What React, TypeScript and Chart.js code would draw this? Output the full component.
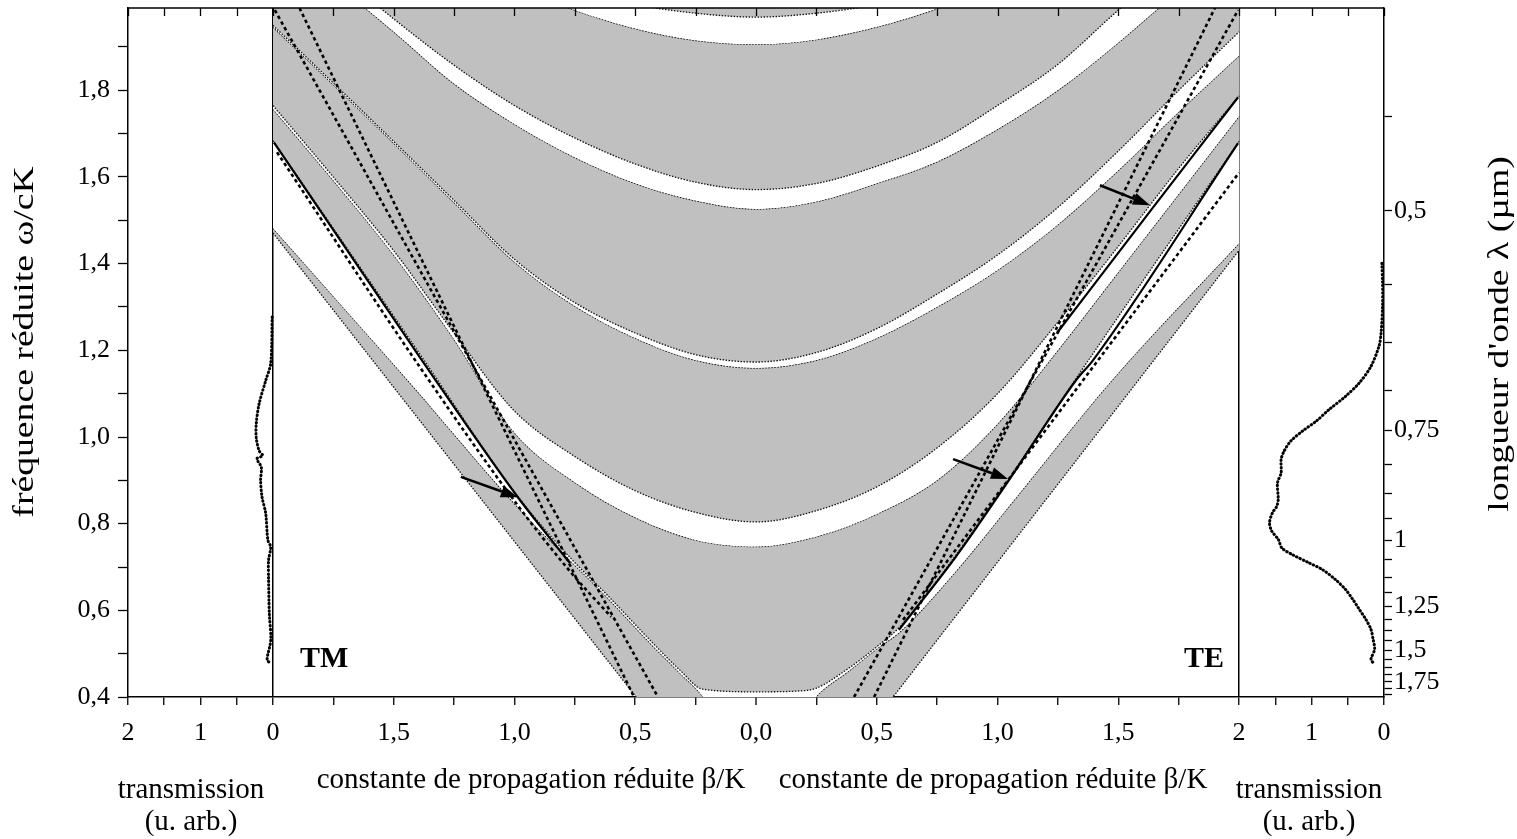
import React, { useEffect, useRef } from "react";
import { Chart, registerables } from "chart.js";

Chart.register(...registerables);

const FONT = '"Liberation Serif", "Times New Roman", serif';
const GRAY = "#c0c0c0";

// ---------- axes ----------
const freqMin = 0.4;
const freqMax = 1.99;
const freqTicks = [0.4, 0.5, 0.6, 0.7, 0.8, 0.9, 1.0, 1.1, 1.2, 1.3, 1.4, 1.5, 1.6, 1.7, 1.8, 1.9];
const freqTickLabels = ["0,4", "", "0,6", "", "0,8", "", "1,0", "", "1,2", "", "1,4", "", "1,6", "", "1,8", ""];
const lambdaConst = 0.761; // ω/cK = lambdaConst / λ(µm)
const lambdaTicks = [0.4375, 0.5, 0.5625, 0.625, 0.6875, 0.75, 0.8125, 0.875, 0.9375, 1, 1.0625, 1.125, 1.1875, 1.25, 1.3125, 1.375, 1.4375, 1.5, 1.5625, 1.625, 1.6875, 1.75, 1.8125, 1.875];
const lambdaTickLabels = ["", "0,5", "", "", "", "0,75", "", "", "", "1", "", "", "", "1,25", "", "", "", "1,5", "", "", "", "1,75", "", ""];
const xMin = -2.6;
const xMax = 2.6;
const transScale = 0.3; // β/K units per transmission unit on the side panels
const xTickValues = [-2.6, -2.45, -2.3, -2.15, -2, -1.75, -1.5, -1.25, -1, -0.75, -0.5, -0.25, 0, 0.25, 0.5, 0.75, 1, 1.25, 1.5, 1.75, 2, 2.15, 2.3, 2.45, 2.6];
const xTickLabels = ["2", "", "1", "", "0", "", "1,5", "", "1,0", "", "0,5", "", "0,0", "", "0,5", "", "1,0", "", "1,5", "", "2", "", "1", "", "0"];

// ---------- band diagram (β/K, ω/cK) ----------
const betaGrid = [0, 0.25, 0.5, 0.75, 1, 1.25, 1.5, 1.75, 2];
const tmGap2Lo = [0.747, 0.762, 0.814, 0.895, 1.01, 1.225, 1.42, 1.592, 1.757];
const tmGap2Hi = [0.804, 0.826, 0.876, 0.955, 1.06, 1.24, 1.43, 1.6, 1.765];
const tmGap3Lo = [1.159, 1.177, 1.228, 1.302, 1.404, 1.541, 1.678, 1.813, 1.946];
const tmGap3Hi = [1.173, 1.19, 1.24, 1.31, 1.41, 1.546, 1.682, 1.817, 1.95];
const tmGap4Lo = [1.526, 1.545, 1.585, 1.645, 1.722, 1.815, 1.935, 2.05, 2.16];
const tmGap4Hi = [1.571, 1.588, 1.63, 1.69, 1.765, 1.858, 1.965, 2.08, 2.19];
const tmGap5Lo = [1.906, 1.915, 1.942, 1.985, 2.04, 2.1, 2.16, 2.23, 2.3];
const tmGap5Hi = [1.969, 1.978, 1.998, 2.03, 2.07, 2.12, 2.18, 2.25, 2.32];
const teGap2Lo = [0.747, 0.77, 0.822, 0.9, 1.03, 1.2, 1.38, 1.56, 1.74];
const teGap2Hi = [0.804, 0.83, 0.885, 0.975, 1.1, 1.265, 1.44, 1.62, 1.787];
const teGap3Lo = [1.159, 1.177, 1.228, 1.3, 1.385, 1.49, 1.615, 1.75, 1.88];
const teGap3Hi = [1.173, 1.195, 1.25, 1.33, 1.42, 1.53, 1.66, 1.8, 1.935];
const teGap4Lo = [1.526, 1.543, 1.585, 1.635, 1.71, 1.8, 1.91, 2.03, 2.15];
const teGap4Hi = [1.571, 1.585, 1.625, 1.68, 1.765, 1.86, 1.985, 2.1, 2.22];
const teGap5Lo = [1.906, 1.917, 1.946, 1.988, 2.04, 2.1, 2.16, 2.23, 2.3];
const teGap5Hi = [1.969, 1.978, 1.998, 2.03, 2.07, 2.12, 2.18, 2.25, 2.32];

const tmStripeLoBeta = [0, 0.509, 2.0];
const tmStripeLoF = [0.047, 0.409, 1.471];
const teStripeLoBeta = [0, 0.58, 2.0];
const teStripeLoF = [0.0, 0.409, 1.431];
const tmStripeHiBeta = [0, 0.219, 0.315, 0.44, 0.617, 0.977, 1.433, 2.0];
const tmStripeHiF = [0.2, 0.4, 0.455, 0.525, 0.63, 0.832, 1.125, 1.482];
const teStripeHiBeta = [0, 0.248, 0.38, 0.509, 0.592, 0.828, 1.048, 1.474, 2.0];
const teStripeHiF = [0.25, 0.4, 0.458, 0.515, 0.548, 0.69, 0.84, 1.131, 1.447];
const tmBandLowBeta = [0, 0.22, 0.315, 0.44, 0.617, 0.77, 0.99, 1.38, 2.0];
const tmBandLowF = [0.412, 0.418, 0.462, 0.532, 0.636, 0.722, 0.866, 1.182, 1.684];
const teBandLowBeta = [0, 0.182, 0.248, 0.38, 0.509, 0.592, 0.828, 1.048, 1.325, 2.0];
const teBandLowF = [0.412, 0.414, 0.42, 0.465, 0.52, 0.56, 0.728, 0.905, 1.135, 1.682];

// guided modes and light lines
const tmSolidBeta = [0.77, 0.986, 1.383, 1.996];
const tmSolidF = [0.709, 0.861, 1.177, 1.68];
const tmDashLightBeta = [0.406, 1.992];
const tmDashLightF = [0.4, 1.985];
const tmDashModeBeta = [0.505, 1.89];
const tmDashModeF = [0.4, 1.99];
const tmDashGuideBeta = [0.6, 0.77, 0.99, 1.39, 1.983];
const tmDashGuideF = [0.585, 0.69, 0.845, 1.16, 1.657];
const teSolid1Beta = [1.246, 1.644, 1.996];
const teSolid1F = [1.24, 1.53, 1.784];
const teSolid2Beta = [0.592, 0.828, 1.048, 1.325, 1.395, 1.996];
const teSolid2F = [0.555, 0.724, 0.901, 1.131, 1.177, 1.678];
const teDashLightBeta = [0.406, 1.996];
const teDashLightF = [0.4, 1.985];
const teDashModeBeta = [0.489, 1.9];
const teDashModeF = [0.4, 1.99];
const teDashGuideBeta = [0.609, 1.354, 2.0];
const teDashGuideF = [0.578, 1.131, 1.61];

// transmission spectra (u. arb.)
const tmTransF = [1.277, 1.17, 1.13, 1.077, 1.031, 0.998, 0.968, 0.957, 0.95, 0.93, 0.9, 0.861, 0.824, 0.762, 0.746, 0.716, 0.669, 0.593, 0.531, 0.485, 0.478];
const tmTransT = [0.01, 0.03, 0.1, 0.19, 0.23, 0.23, 0.19, 0.14, 0.22, 0.16, 0.17, 0.15, 0.1, 0.07, 0.03, 0.06, 0.06, 0.05, 0.03, 0.08, 0.02];
const teTransF = [1.401, 1.355, 1.301, 1.24, 1.209, 1.163, 1.125, 1.094, 1.063, 1.036, 1.013, 0.99, 0.967, 0.948, 0.917, 0.894, 0.856, 0.84, 0.825, 0.802, 0.783, 0.764, 0.744, 0.729, 0.71, 0.694, 0.671, 0.648, 0.625, 0.602, 0.579, 0.556, 0.533, 0.51, 0.487, 0.479];
const teTransT = [0.03, 0.02, 0.02, 0.04, 0.07, 0.18, 0.34, 0.53, 0.76, 0.94, 1.13, 1.29, 1.38, 1.42, 1.42, 1.47, 1.46, 1.48, 1.54, 1.58, 1.55, 1.46, 1.41, 1.27, 1.04, 0.85, 0.67, 0.53, 0.43, 0.34, 0.25, 0.18, 0.15, 0.13, 0.18, 0.15];

// arrows (tail -> head), in (signed β/K, ω/cK); TM side is negative
const arrowTails = [[-1.222, 0.908], [1.424, 1.581], [0.816, 0.949]];
const arrowHeads = [[-0.986, 0.861], [1.631, 1.535], [1.043, 0.903]];

export default function App() {
  const ref = useRef<HTMLCanvasElement>(null);

  useEffect(() => {
    const canvas = ref.current;
    if (!canvas) return;

    const tm = (b: number[], f: number[]) => b.map((v, i) => ({ x: -v, y: f[i] })).reverse();
    const te = (b: number[], f: number[]) => b.map((v, i) => ({ x: v, y: f[i] }));
    const both = (tb: number[], tf: number[], eb: number[], ef: number[]) => [
      ...tm(tb, tf),
      ...te(eb, ef).filter((p) => p.x > 0),
    ];
    const clear = "rgba(0,0,0,0)";
    const edge: any = {
      borderColor: "#111",
      borderWidth: 1.3,
      borderDash: [1.5, 1.5],
      pointRadius: 0,
      fill: false,
      cubicInterpolationMode: "monotone",
      xAxisID: "x",
      yAxisID: "y",
    };
    const mode = (data: any[], dashed: boolean) => ({
      data,
      borderColor: "#000",
      borderWidth: dashed ? 2.6 : 2.2,
      borderDash: dashed ? [3.5, 3] : [],
      pointRadius: 0,
      fill: false,
      cubicInterpolationMode: "monotone",
      order: 10,
      xAxisID: "x",
      yAxisID: "y",
    });
    const trans = (data: any[]) => ({
      data,
      borderColor: "#000",
      borderWidth: 3,
      borderDash: [0.5, 3.2],
      borderCapStyle: "round",
      pointRadius: 0,
      fill: false,
      tension: 0.3,
      order: 5,
      xAxisID: "x",
      yAxisID: "y",
    });

    const datasets: any[] = [
      { ...edge, data: both(tmStripeLoBeta, tmStripeLoF, teStripeLoBeta, teStripeLoF), cubicInterpolationMode: "default", tension: 0, fill: "end", backgroundColor: GRAY, order: 100 },
      { ...edge, data: both(tmStripeHiBeta, tmStripeHiF, teStripeHiBeta, teStripeHiF), order: 90 },
      { ...edge, data: both(tmBandLowBeta, tmBandLowF, teBandLowBeta, teBandLowF), fill: { target: 1, above: "#fff", below: clear }, order: 80 },
      { ...edge, data: both(betaGrid, tmGap2Lo, betaGrid, teGap2Lo), order: 70 },
      { ...edge, data: both(betaGrid, tmGap2Hi, betaGrid, teGap2Hi), fill: { target: 3, above: "#fff", below: clear }, order: 69 },
      { ...edge, data: both(betaGrid, tmGap3Lo, betaGrid, teGap3Lo), order: 68 },
      { ...edge, data: both(betaGrid, tmGap3Hi, betaGrid, teGap3Hi), fill: { target: 5, above: "#fff", below: clear }, order: 67 },
      { ...edge, data: both(betaGrid, tmGap4Lo, betaGrid, teGap4Lo), order: 66 },
      { ...edge, data: both(betaGrid, tmGap4Hi, betaGrid, teGap4Hi), fill: { target: 7, above: "#fff", below: clear }, order: 65 },
      { ...edge, data: both(betaGrid, tmGap5Lo, betaGrid, teGap5Lo), order: 64 },
      { ...edge, data: both(betaGrid, tmGap5Hi, betaGrid, teGap5Hi), fill: { target: 9, above: "#fff", below: clear }, order: 63 },
      mode(tm(tmSolidBeta, tmSolidF), false),
      mode(tm(tmDashLightBeta, tmDashLightF), true),
      mode(tm(tmDashModeBeta, tmDashModeF), true),
      mode(tm(tmDashGuideBeta, tmDashGuideF), true),
      mode(te(teSolid1Beta, teSolid1F), false),
      mode(te(teSolid2Beta, teSolid2F), false),
      mode(te(teDashLightBeta, teDashLightF), true),
      mode(te(teDashModeBeta, teDashModeF), true),
      mode(te(teDashGuideBeta, teDashGuideF), true),
      trans(tmTransT.map((t, i) => ({ x: -2 - t * transScale, y: tmTransF[i] }))),
      trans(teTransT.map((t, i) => ({ x: 2 + (2 - t) * transScale, y: teTransF[i] }))),
    ];

    const drawArrow = (ctx: CanvasRenderingContext2D, x1: number, y1: number, x2: number, y2: number) => {
      const ang = Math.atan2(y2 - y1, x2 - x1);
      const hl = 17;
      const hw = 6;
      const bx = x2 - hl * Math.cos(ang);
      const by = y2 - hl * Math.sin(ang);
      ctx.beginPath();
      ctx.moveTo(x1, y1);
      ctx.lineTo(bx, by);
      ctx.lineWidth = 2.6;
      ctx.strokeStyle = "#000";
      ctx.stroke();
      ctx.beginPath();
      ctx.moveTo(x2, y2);
      ctx.lineTo(bx + hw * Math.sin(ang), by - hw * Math.cos(ang));
      ctx.lineTo(bx - hw * Math.sin(ang), by + hw * Math.cos(ang));
      ctx.closePath();
      ctx.fillStyle = "#000";
      ctx.fill();
    };

    const rotatedTitle = (ctx: CanvasRenderingContext2D, text: string, cx: number, cy: number) => {
      ctx.save();
      ctx.translate(cx, cy);
      ctx.rotate(-Math.PI / 2);
      ctx.scale(1.3, 1);
      ctx.textAlign = "center";
      ctx.textBaseline = "middle";
      ctx.fillText(text, 0, 0);
      ctx.restore();
    };

    const decor = {
      id: "decor",
      afterDraw(chart: any) {
        const { ctx, chartArea: a, scales } = chart;
        const xs = scales.x;
        const ys = scales.y;
        ctx.save();
        ctx.strokeStyle = "#000";
        ctx.lineWidth = 1.5;
        ctx.beginPath();
        ctx.moveTo(a.left, a.top);
        ctx.lineTo(a.right, a.top);
        ctx.stroke();
        ctx.lineWidth = 1.3;
        xTickValues.forEach((v) => {
          const px = Math.round(xs.getPixelForValue(v)) + 0.5;
          ctx.beginPath();
          ctx.moveTo(px, a.top);
          ctx.lineTo(px, a.top + 8);
          ctx.stroke();
        });
        arrowTails.forEach((t, i) => {
          const h = arrowHeads[i];
          drawArrow(ctx, xs.getPixelForValue(t[0]), ys.getPixelForValue(t[1]), xs.getPixelForValue(h[0]), ys.getPixelForValue(h[1]));
        });
        ctx.fillStyle = "#000";
        ctx.textBaseline = "alphabetic";
        ctx.font = `bold 30px ${FONT}`;
        ctx.textAlign = "left";
        ctx.fillText("TM", 300, 667);
        ctx.fillText("TE", 1184, 667);

        ctx.font = `29px ${FONT}`;
        ctx.textAlign = "center";
        ctx.fillText("constante de propagation réduite β/K", 531, 788);
        ctx.fillText("constante de propagation réduite β/K", 993, 788);
        ctx.fillText("transmission", 191, 798);
        ctx.fillText("(u. arb.)", 191, 830);
        ctx.fillText("transmission", 1309, 798);
        ctx.fillText("(u. arb.)", 1309, 830);

        rotatedTitle(ctx, "fréquence réduite ω/cK", 25, 342);
        rotatedTitle(ctx, "longueur d'onde λ (µm)", 1500, 334);
        ctx.restore();
      },
    };

    const noPad = (s: any) => {
      s.paddingTop = 0;
      s.paddingBottom = 0;
      s.paddingLeft = 0;
      s.paddingRight = 0;
    };

    const sepValues = [-2, 0, 2];
    const chart = new Chart(canvas, {
      type: "line",
      data: { datasets },
      plugins: [decor],
      options: {
        responsive: false,
        animation: false,
        devicePixelRatio: 1,
        events: [],
        layout: { padding: { top: 8, left: 0, right: 0, bottom: 0 } },
        plugins: { legend: { display: false }, tooltip: { enabled: false } },
        font: { family: FONT },
        scales: {
          x: {
            type: "linear",
            position: "bottom",
            min: xMin,
            max: xMax,
            z: 1,
            afterBuildTicks: (s: any) => {
              s.ticks = xTickValues.map((v) => ({ value: v }));
            },
            afterFit: (s: any) => {
              s.height = 142;
              noPad(s);
            },
            ticks: {
              autoSkip: false,
              maxRotation: 0,
              padding: 13,
              color: "#000",
              font: { family: FONT, size: 26 },
              callback: (_v: any, i: number) => xTickLabels[i],
            },
            grid: {
              drawOnChartArea: true,
              color: (c: any) => (c.tick && sepValues.includes(c.tick.value) ? "#000" : "rgba(0,0,0,0)"),
              lineWidth: (c: any) => (c.tick && c.tick.value === 0 ? 2 : 1.5),
              tickColor: "#000",
              tickLength: 8,
              tickWidth: 1.3,
            },
            border: { display: true, color: "#000", width: 1.5 },
          },
          y: {
            type: "linear",
            position: "left",
            min: freqMin,
            max: freqMax,
            afterBuildTicks: (s: any) => {
              s.ticks = freqTicks.map((v) => ({ value: v }));
            },
            afterFit: (s: any) => {
              s.width = 128;
              noPad(s);
            },
            ticks: {
              autoSkip: false,
              padding: 8,
              color: "#000",
              font: { family: FONT, size: 26 },
              callback: (_v: any, i: number) => freqTickLabels[i],
            },
            grid: { drawOnChartArea: false, tickColor: "#000", tickLength: 10, tickWidth: 1.3 },
            border: { display: true, color: "#000", width: 1.5 },
          },
          yR: {
            type: "linear",
            position: "right",
            min: freqMin,
            max: freqMax,
            afterBuildTicks: (s: any) => {
              s.ticks = lambdaTicks.map((l) => ({ value: lambdaConst / l }));
            },
            afterFit: (s: any) => {
              s.width = 133;
              noPad(s);
            },
            ticks: {
              autoSkip: false,
              padding: 2,
              color: "#000",
              font: { family: FONT, size: 26 },
              callback: (_v: any, i: number) => lambdaTickLabels[i],
            },
            grid: { drawOnChartArea: false, tickColor: "#000", tickLength: 8, tickWidth: 1.3 },
            border: { display: true, color: "#000", width: 1.5 },
          },
        },
      } as any,
    });

    return () => chart.destroy();
  }, []);

  return (
    <div style={{ position: "fixed", left: 0, top: 0, width: 1517, height: 839, background: "#fff" }}>
      <canvas ref={ref} width={1517} height={839} style={{ display: "block", width: 1517, height: 839 }} />
    </div>
  );
}
